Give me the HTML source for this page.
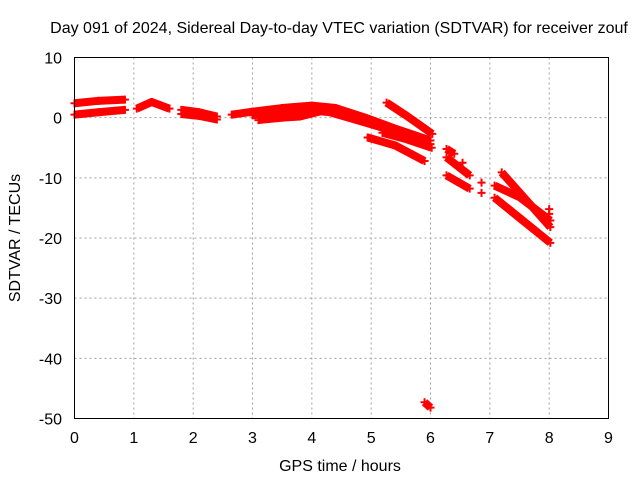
<!DOCTYPE html>
<html><head><meta charset="utf-8"><style>
body{margin:0;background:#fff}
svg{display:block;font-family:"Liberation Sans",sans-serif}
</style></head><body>
<svg id="chart" width="640" height="480">
<g id="grid"></g>
<g id="series"></g>
<rect x="74.5" y="57.5" width="534" height="361" fill="none" stroke="#000"/>
<g id="ticks"></g>
<text x="339" y="33" font-size="16" text-anchor="middle">Day 091 of 2024, Sidereal Day-to-day VTEC variation (SDTVAR) for receiver zouf</text>
<text x="340" y="471" font-size="16" text-anchor="middle">GPS time / hours</text>
<text transform="translate(20,238) rotate(-90)" font-size="16" text-anchor="middle">SDTVAR / TECUs</text>
</svg>
<script>
const xTicks=[0,1,2,3,4,5,6,7,8,9];
const yTicks=[10,0,-10,-20,-30,-40,-50];
const trackA=[[0,2.4],[0.4,2.8],[0.85,3.0]];
const trackB=[[0,0.5],[0.4,0.9],[0.85,1.3]];
const trackC=[[1.05,1.5],[1.3,2.6],[1.6,1.5]];
const trackD=[[1.8,1.3],[2.1,0.9],[2.4,0.2]];
const trackD2=[[1.8,0.6],[2.1,0.3],[2.4,-0.3]];
const trackE=[[2.65,0.5],[3.0,1.0],[3.5,1.6],[4.0,2.0],[4.4,1.6],[4.9,0.0],[5.4,-1.8],[6.0,-3.8]];
const trackE2=[[3.1,-0.4],[3.5,0.0],[3.8,0.2],[4.2,1.2],[4.9,-0.8],[5.5,-2.6],[6.0,-4.4]];
const trackE3=[[3.0,0.4],[3.5,0.8],[4.0,1.2],[4.6,0.6]];
const trackF=[[4.94,-3.3],[5.4,-4.6],[5.9,-7.2]];
const trackG=[[5.19,-2.5],[5.6,-3.6],[6.02,-5.0]];
const trackH=[[5.26,2.5],[5.6,0.3],[6.03,-2.7]];
const trackI=[[5.9,-47.3],[6.0,-48.2]];
const trackJ=[[6.27,-5.2],[6.4,-6.0]];
const trackK=[[6.27,-6.6],[6.66,-9.6]];
const trackL=[[6.27,-9.6],[6.66,-11.8]];
const trackM=[[7.2,-9.1],[8.02,-18.2]];
const trackN=[[7.08,-11.3],[7.5,-13.2],[8.02,-17.1]];
const trackO=[[7.08,-13.3],[8.02,-20.8]];
const singles=[[6.54,-7.5],[6.86,-10.8],[6.86,-12.5],[8.0,-16.0],[8.0,-15.2]];
const tracks=[trackA,trackB,trackC,trackD,trackD2,trackE,trackE2,trackE3,trackF,trackG,trackH,trackI,trackJ,trackK,trackL,trackM,trackN,trackO];
const NS='http://www.w3.org/2000/svg';
const X=h=>74.5+h*534/9;
const Y=v=>57.5+(10-v)*361/60;
const grid=document.getElementById('grid'),ticks=document.getElementById('ticks'),series=document.getElementById('series');
function mk(tag,attrs,parent){const e=document.createElementNS(NS,tag);for(const k in attrs)e.setAttribute(k,attrs[k]);parent.appendChild(e);return e;}
xTicks.forEach(t=>{
  if(t>0&&t<9){const g=mk('line',{x1:X(t),x2:X(t),y1:57.5,y2:418.5,stroke:'#a0a0a0','stroke-dasharray':'2,3'},grid);
  
  }
  const l=mk('text',{x:X(t),y:443,'font-size':16,'text-anchor':'middle'},ticks);l.textContent=t;
  
  
});
yTicks.forEach(t=>{
  if(t<10&&t>-50){const g=mk('line',{x1:74.5,x2:608.5,y1:Y(t),y2:Y(t),stroke:'#a0a0a0','stroke-dasharray':'2,3'},grid);
  
  }
  const l=mk('text',{x:62,y:Y(t)+6,'font-size':16,'text-anchor':'end'},ticks);l.textContent=t;
  
  
});
function plus(p){const x=X(p[0]),y=Y(p[1]);
  const e=mk('path',{d:`M${x-4},${y}H${x+4}M${x},${y-4}V${y+4}`,stroke:'#f00','stroke-width':2},series);
  
  }
tracks.forEach(tr=>{
  const pl=mk('polyline',{points:tr.map(p=>X(p[0])+','+Y(p[1])).join(' '),fill:'none',stroke:'#f00','stroke-width':8,'stroke-linejoin':'round'},series);
  
  
  tr.forEach(plus);
});
singles.forEach(plus);
</script>
</body></html>
